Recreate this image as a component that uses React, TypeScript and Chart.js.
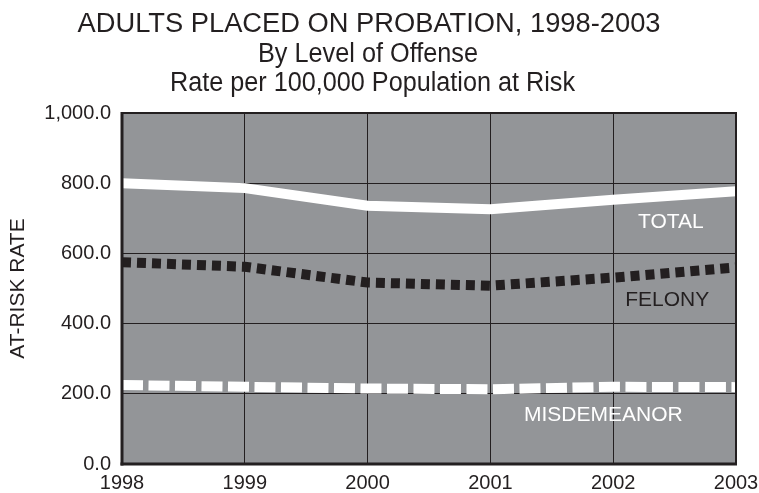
import React, { useEffect, useRef } from "react";
import { Chart, registerables } from "chart.js";

Chart.register(...registerables);

const years = ["1998", "1999", "2000", "2001", "2002", "2003"];
const totalRate = [800, 786, 736, 726, 753, 777];
const felonyRate = [575, 562, 517, 508, 531, 560];
const misdemeanorRate = [225, 220, 215, 213, 220, 219];
const yTicks = [0, 200, 400, 600, 800, 1000];

const titleLines = [
  "ADULTS PLACED ON PROBATION, 1998-2003",
  "By Level of Offense",
  "Rate per 100,000 Population at Risk",
];
const yAxisTitle = "AT-RISK RATE";
const seriesNames = ["TOTAL", "FELONY", "MISDEMEANOR"];

const INK = "#231f20";
const PLOT_BG = "#939598";
const FONT = "'Liberation Sans', Arial, Helvetica, sans-serif";

// annotation placement (category index, value) for series name labels
const seriesLabelAnchors = [
  { x: 4.47, y: 671, color: "#ffffff" },
  { x: 4.44, y: 449, color: INK },
  { x: 3.92, y: 123, color: "#ffffff" },
];

// title layout: centre x, baseline y, target width
const titleLayout = [
  { cx: 369, by: 31.5, w: 583, size: 27 },
  { cx: 368, by: 62, w: 220, size: 27 },
  { cx: 372.5, by: 91, w: 405, size: 27 },
];

const decorPlugin = {
  id: "decor",
  beforeDraw(chart: any) {
    const { ctx, chartArea: a } = chart;
    ctx.save();
    ctx.fillStyle = "#ffffff";
    ctx.fillRect(0, 0, chart.width, chart.height);
    ctx.fillStyle = PLOT_BG;
    ctx.fillRect(a.left, a.top, a.right - a.left, a.bottom - a.top);
    ctx.restore();
  },
  afterDatasetsDraw(chart: any) {
    const { ctx, chartArea: a, scales } = chart;
    ctx.save();
    // frame
    ctx.fillStyle = INK;
    ctx.fillRect(a.left - 1, a.top - 1, a.right - a.left + 2, 2); // top
    ctx.fillRect(a.right - 1, a.top - 1, 2, a.bottom - a.top + 2); // right
    ctx.fillRect(a.left - 1.5, a.top - 1, 3, a.bottom - a.top + 2.5); // left
    ctx.fillRect(a.left - 1.5, a.bottom - 1.5, a.right - a.left + 2.5, 3); // bottom

    // series labels
    ctx.font = `21px ${FONT}`;
    ctx.textAlign = "center";
    ctx.textBaseline = "alphabetic";
    seriesNames.forEach((name, i) => {
      const an = seriesLabelAnchors[i];
      ctx.fillStyle = an.color;
      ctx.fillText(name, scales.x.getPixelForValue(an.x), scales.y.getPixelForValue(an.y));
    });

    // title
    ctx.fillStyle = INK;
    titleLines.forEach((t, i) => {
      const L = titleLayout[i];
      ctx.font = `${L.size}px ${FONT}`;
      const mw = ctx.measureText(t).width;
      const sx = L.w / mw;
      ctx.save();
      ctx.translate(L.cx, L.by);
      ctx.scale(sx, 1);
      ctx.textAlign = "center";
      ctx.fillText(t, 0, 0);
      ctx.restore();
    });
    ctx.restore();
  },
};

export default function App() {
  const ref = useRef<HTMLCanvasElement | null>(null);

  useEffect(() => {
    if (!ref.current) return;
    const chart = new Chart(ref.current, {
      type: "line",
      data: {
        labels: years,
        datasets: [
          {
            label: seriesNames[0],
            data: totalRate,
            borderColor: "#ffffff",
            borderWidth: 10,
            pointRadius: 0,
            tension: 0,
            borderCapStyle: "butt",
          },
          {
            label: seriesNames[1],
            data: felonyRate,
            borderColor: INK,
            borderWidth: 10,
            borderDash: [9, 6],
            pointRadius: 0,
            tension: 0,
            borderCapStyle: "butt",
          },
          {
            label: seriesNames[2],
            data: misdemeanorRate,
            borderColor: "#ffffff",
            borderWidth: 10,
            borderDash: [21, 5.5],
            pointRadius: 0,
            tension: 0,
            borderCapStyle: "butt",
          },
        ],
      },
      options: {
        animation: false,
        responsive: false,
        maintainAspectRatio: false,
        layout: { padding: { top: 113, right: 23, left: 0, bottom: 0 } },
        plugins: {
          legend: { display: false },
          tooltip: { enabled: false },
          title: { display: false },
        },
        scales: {
          x: {
            type: "category",
            offset: false,
            grid: { color: INK, lineWidth: 1, drawTicks: false },
            border: { display: false },
            ticks: {
              color: INK,
              font: { family: FONT, size: 20 },
              padding: 7,
              maxRotation: 0,
              autoSkip: false,
            },
            afterFit(scale: any) {
              scale.height = 29;
              scale.paddingLeft = 0;
              scale.paddingRight = 0;
            },
          },
          y: {
            min: 0,
            max: 1000,
            afterBuildTicks(scale: any) {
              scale.ticks = yTicks.map((v) => ({ value: v }));
            },
            grid: { color: INK, lineWidth: 1, drawTicks: false },
            border: { display: false },
            ticks: {
              color: INK,
              font: { family: FONT, size: 20 },
              padding: 11,
              callback: (v: any) =>
                Number(v).toLocaleString("en-US", {
                  minimumFractionDigits: 1,
                  maximumFractionDigits: 1,
                }),
            },
            title: {
              display: true,
              text: yAxisTitle,
              color: INK,
              font: { family: FONT, size: 21 },
              padding: { top: 6, bottom: 0 },
            },
            afterFit(scale: any) {
              scale.width = 122;
              scale.paddingTop = 0;
              scale.paddingBottom = 0;
            },
          },
        },
      },
      plugins: [decorPlugin],
    });
    return () => chart.destroy();
  }, []);

  return (
    <div style={{ position: "fixed", left: 0, top: 0, width: 759, height: 493, background: "#fff" }}>
      <canvas ref={ref} width={759} height={493} style={{ display: "block", width: 759, height: 493 }} />
    </div>
  );
}
